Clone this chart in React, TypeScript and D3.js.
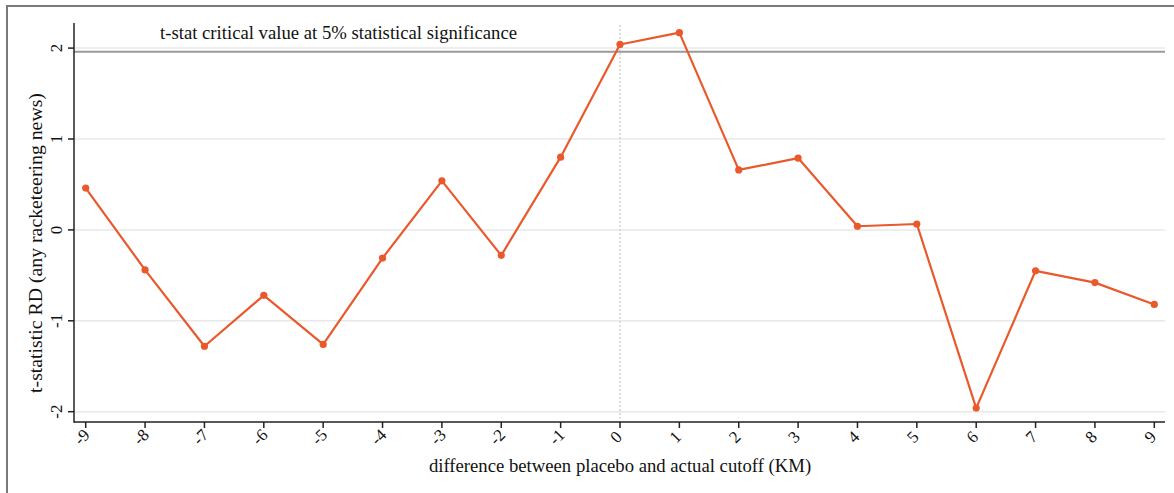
import { useRef, useEffect } from 'react';
import * as d3 from 'd3';

const cutoffs = [-9, -8, -7, -6, -5, -4, -3, -2, -1, 0, 1, 2, 3, 4, 5, 6, 7, 8, 9];
const tstats = [0.46, -0.44, -1.28, -0.72, -1.26, -0.31, 0.54, -0.28, 0.8, 2.04, 2.17, 0.66, 0.79, 0.04, 0.065, -1.96, -0.45, -0.58, -0.82];
const yTicks = [-2, -1, 0, 1, 2];
const critical = 1.96;

const W = 1174;
const H = 493;
const LINE = '#e9592b';
const FONT = '"Liberation Serif", "Times New Roman", serif';

export default function App() {
  const svgRef = useRef<SVGSVGElement>(null);

  useEffect(() => {
    if (!svgRef.current) return;
    const svg = d3.select(svgRef.current);
    svg.selectAll('*').remove();

    const left = 74, right = 1165, top = 23, bottom = 422;

    const x = d3.scaleLinear().domain([-9, 9]).range([85.7, 1154.3]);
    const y = d3.scaleLinear().domain([-2, 2]).range([411.7, 48.1]);

    svg.append('rect').attr('width', W).attr('height', H).attr('fill', '#fff');

    // outer frame (left + top edges)
    svg.append('path')
      .attr('d', `M7,${H} L7,6 L${W},6`)
      .attr('fill', 'none').attr('stroke', '#7a7a7a').attr('stroke-width', 2);

    // gridlines
    svg.append('g').selectAll('line').data(yTicks).enter().append('line')
      .attr('x1', left).attr('x2', right)
      .attr('y1', d => y(d)).attr('y2', d => y(d))
      .attr('stroke', '#e8e8e8').attr('stroke-width', 1.5);

    // critical value line
    svg.append('line')
      .attr('x1', left).attr('x2', right)
      .attr('y1', y(critical)).attr('y2', y(critical))
      .attr('stroke', '#9a9a9a').attr('stroke-width', 2);

    svg.append('text')
      .attr('x', 160).attr('y', 39)
      .attr('font-family', FONT).attr('font-size', 18.7).attr('fill', '#111')
      .text('t-stat critical value at 5% statistical significance');

    // vertical dotted line at 0
    svg.append('line')
      .attr('x1', x(0)).attr('x2', x(0))
      .attr('y1', 25).attr('y2', bottom)
      .attr('stroke', '#c8c8c8').attr('stroke-width', 1.2)
      .attr('stroke-dasharray', '2,2');

    // axes
    const axisColor = '#222';
    svg.append('line').attr('x1', left).attr('x2', left).attr('y1', top).attr('y2', bottom + 0.75)
      .attr('stroke', axisColor).attr('stroke-width', 1.5);
    svg.append('line').attr('x1', left).attr('x2', right).attr('y1', bottom).attr('y2', bottom)
      .attr('stroke', axisColor).attr('stroke-width', 1.5);

    // y ticks
    const yt = svg.append('g').selectAll('g').data(yTicks).enter().append('g');
    yt.append('line').attr('x1', left - 6).attr('x2', left)
      .attr('y1', d => y(d)).attr('y2', d => y(d))
      .attr('stroke', axisColor).attr('stroke-width', 1.5);
    yt.append('text')
      .attr('transform', d => `translate(62,${y(d)}) rotate(-90)`)
      .attr('text-anchor', 'middle')
      .attr('font-family', FONT).attr('font-size', 17).attr('fill', '#111')
      .text(d => String(d));

    // x ticks
    const xt = svg.append('g').selectAll('g').data(cutoffs).enter().append('g');
    xt.append('line').attr('x1', d => x(d)).attr('x2', d => x(d))
      .attr('y1', bottom).attr('y2', bottom + 6)
      .attr('stroke', axisColor).attr('stroke-width', 1.5);
    xt.append('text')
      .attr('transform', d => `translate(${x(d)},${bottom + 19}) rotate(-45)`)
      .attr('text-anchor', 'middle')
      .attr('font-family', FONT).attr('font-size', 17).attr('fill', '#111')
      .text(d => String(d));

    // axis titles
    svg.append('text')
      .attr('x', 620).attr('y', 472)
      .attr('text-anchor', 'middle')
      .attr('font-family', FONT).attr('font-size', 18.7).attr('fill', '#111')
      .text('difference between placebo and actual cutoff (KM)');
    svg.append('text')
      .attr('transform', `translate(42,243) rotate(-90)`)
      .attr('text-anchor', 'middle')
      .attr('font-family', FONT).attr('font-size', 19.8).attr('fill', '#111')
      .text('t-statistic RD (any racketeering news)');

    // series
    const pts = cutoffs.map((c, i) => [c, tstats[i]] as [number, number]);
    const line = d3.line<[number, number]>().x(d => x(d[0])).y(d => y(d[1]));
    svg.append('path').datum(pts)
      .attr('d', line)
      .attr('fill', 'none').attr('stroke', LINE).attr('stroke-width', 2.2)
      .attr('stroke-linejoin', 'round');
    svg.append('g').selectAll('circle').data(pts).enter().append('circle')
      .attr('cx', d => x(d[0])).attr('cy', d => y(d[1])).attr('r', 3.6)
      .attr('fill', LINE);
  }, []);

  return (
    <div style={{ position: 'absolute', left: 0, top: 0 }}>
      <svg ref={svgRef} width={W} height={H} style={{ display: 'block' }} />
    </div>
  );
}
